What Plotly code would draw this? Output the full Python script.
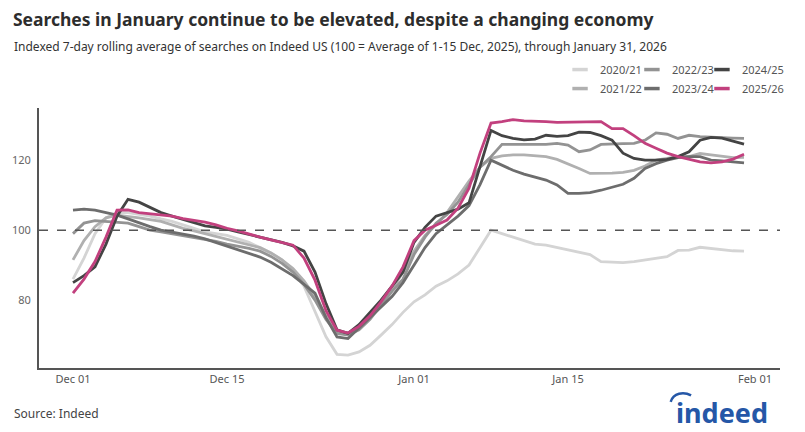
import pandas as pd
import plotly.graph_objects as go

dates = pd.date_range("2025-12-01", "2026-01-31", freq="D")

s2020 = [86, 92, 99, 103.5, 105, 105, 104.5, 104, 103.2, 102.5, 101.5, 100.5, 99.5, 99, 98.5, 97.5,
         96.5, 95, 93.5, 91.5, 88.5, 84, 77, 69.5, 64.5, 64.3, 65.2, 67.1, 70, 73, 76.5,
         79.5, 81.5, 84, 85.5, 87.5, 90, 95, 100, 99, 98, 97, 96, 95.7, 95, 94.3,
         93.7, 93, 91, 90.8, 90.7, 91, 91.5, 92, 92.4, 94.2, 94.3, 95.1, 94.7, 94.3, 94.1, 94]
s2021 = [91.5, 97, 101, 103.5, 104.3, 104, 103.5, 103, 102.5, 101.5, 100.5, 99.8, 99, 98.3, 97.5, 96.8,
         96, 95, 93.5, 91.5, 89, 85.5, 81, 75.5, 71, 70.5, 72.5, 75.5, 79, 83, 88,
         94, 98.5, 101.5, 105, 109.5, 114, 118, 120.5, 121.2, 121.5, 121.5, 121.3, 121, 120.2, 119,
         117.6, 116.2, 116.2, 116.3, 116.5, 117.1, 118.3, 120, 120.5, 121, 121, 121.9, 121.5, 121, 120.7, 120.8]
s2022 = [99, 102, 102.7, 102.5, 102.2, 102, 101, 100, 99.5, 99, 98.5, 98, 97.5, 96.8, 96, 95.5,
         94.8, 94, 92.5, 90.5, 88, 84.5, 80, 74.5, 70.5, 70, 71.5, 74.5, 78.5, 82.5, 86,
         93, 98, 102, 104.5, 108, 113, 118, 121, 124.5, 124.5, 124.5, 124.5, 124.5, 124.8, 124.3,
         122.4, 122.9, 124.5, 124.5, 124.7, 124.8, 125.7, 127.8, 127.4, 126.2, 127.1, 126.7, 126.5, 126.4, 126.3, 126.2]
s2023 = [105.7, 106, 105.7, 105, 104.3, 103.2, 102, 101, 100, 99.5, 99, 98.3, 97.5, 96.5, 95.5, 94.5,
         93.5, 92.3, 90.8, 89, 87, 84.5, 82, 75, 69.5, 69, 72, 75, 78, 81, 85,
         90, 95, 99, 101.5, 104, 107, 113, 120, 118.6, 117.1, 116, 115.2, 114.3, 112.9, 110.5,
         110.5, 110.7, 111.4, 112.2, 113.1, 114.8, 117.6, 119, 120, 120.7, 121, 121, 120, 119.8, 119.5, 119.2]
s2024 = [85, 87, 89.5, 96, 104, 108.8, 108, 106.5, 105, 104, 103, 102, 101.2, 100.8, 100.3, 99.5,
         98.8, 98, 97.3, 96.5, 95.5, 94, 88, 79, 71.5, 70.5, 73, 76.5, 80, 84, 88,
         96.5, 100.8, 104, 105, 106, 107.8, 118, 128.5, 127, 126.2, 125.8, 126, 127.1, 126.8, 127,
         128, 127.9, 127, 125.7, 122, 120.5, 120, 120, 120.2, 121, 122.4, 125.7, 126.5, 126.3, 125.5, 124.6]
s2025 = [82, 86, 91, 98, 105.7, 105.8, 105, 104.7, 104.5, 104, 103.3, 102.8, 102.3, 101.5, 100.5, 99.8,
         98.8, 98, 97.2, 96.5, 95.7, 92, 85.7, 77, 71.4, 70.6, 72.5, 75.5, 79.5, 84, 89.5,
         97, 100, 101.4, 102.9, 106.3, 112, 122, 130.6, 131, 131.6, 131.2, 131.2, 131, 130.8, 130.8,
         131, 131, 131, 129, 129, 127, 124.8, 123.4, 122, 121, 120.3, 119.5, 119.2, 119.5, 120.3, 121.7]

series_names = ["2020/21", "2021/22", "2022/23", "2023/24", "2024/25", "2025/26"]
series_values = [s2020, s2021, s2022, s2023, s2024, s2025]
series_colors = ["#d4d4d4", "#b0b0b0", "#939393", "#6d6d6d", "#444444", "#c2407e"]

x_tick_vals = ["2025-12-01", "2025-12-15", "2026-01-01", "2026-01-15", "2026-02-01"]
x_tick_text = ["Dec 01", "Dec 15", "Jan 01", "Jan 15", "Feb 01"]
y_tick_vals = [80, 100, 120]

fig = go.Figure()
for name, vals, col in zip(series_names, series_values, series_colors):
    fig.add_trace(go.Scatter(x=dates, y=vals, mode="lines", name=name,
                             line=dict(color=col, width=2.8), showlegend=False,
                             hoverinfo="skip"))

# legend: three columns of two entries each, like the reference
legend_ids = ["legend", "legend", "legend2", "legend2", "legend3", "legend3"]
for name, col, lg in zip(series_names, series_colors, legend_ids):
    fig.add_trace(go.Scatter(x=[None], y=[None], mode="markers", name=name,
                             marker=dict(symbol="line-ew-open", size=11, color=col,
                                         line=dict(color=col, width=3.5)),
                             legend=lg))

fig.add_hline(y=100, line=dict(color="#555555", width=1.5, dash="dash"))

leg_common = dict(orientation="v", xanchor="left", yanchor="middle",
                  xref="container", yref="container", y=0.817,
                  font=dict(family="Noto Sans", size=11, color="#555555"),
                  itemwidth=30, bgcolor="rgba(0,0,0,0)", tracegroupgap=0,
                  itemclick=False, itemdoubleclick=False)

fig.update_layout(
    width=805, height=432,
    margin=dict(l=39, r=25, t=108, b=64, autoexpand=False),
    paper_bgcolor="white", plot_bgcolor="white",
    font=dict(family="Noto Sans", color="#555555"),
    title=dict(text="<b>Searches in January continue to be elevated, despite a changing economy</b>",
               xref="container", x=0.016, xanchor="left", yref="container", y=0.953, yanchor="middle",
               font=dict(family="Noto Sans", size=17.5, color="#2d2d2d")),
    legend=dict(x=0.6957, **leg_common),
    legend2=dict(x=0.785, **leg_common),
    legend3=dict(x=0.872, **leg_common),
    xaxis=dict(type="date", range=["2025-11-27 21:50", "2026-02-03 06:30"],
               tickvals=x_tick_vals, ticktext=x_tick_text, showgrid=False, zeroline=False,
               showline=True, linecolor="#555555", linewidth=2, ticks="", automargin=False,
               tickfont=dict(family="Noto Sans", size=11, color="#555555")),
    yaxis=dict(range=[60.6, 134.9], tickvals=y_tick_vals, showgrid=False, zeroline=False,
               showline=True, linecolor="#555555", linewidth=2, ticks="", automargin=False,
               ticklabelstandoff=4,
               tickfont=dict(family="Noto Sans", size=11, color="#666666")),
)

fig.add_annotation(text="Indexed 7-day rolling average of searches on Indeed US (100 = Average of 1-15 Dec, 2025), through January 31, 2026",
                   xref="paper", yref="paper", x=-0.036, y=1.238, xanchor="left", yanchor="middle",
                   showarrow=False, font=dict(family="Noto Sans", size=12, color="#333333"))
fig.add_annotation(text="Source: Indeed", xref="paper", yref="paper", x=-0.036, y=-0.176,
                   xanchor="left", yanchor="middle", showarrow=False,
                   font=dict(family="Noto Sans", size=12, color="#444444"))
fig.add_annotation(text="<b>indeed</b>", xref="paper", yref="paper", x=0.9865, y=-0.172,
                   xanchor="right", yanchor="middle", showarrow=False,
                   font=dict(family="Noto Sans", size=27, color="#2557a7"))
# swoosh of the logo
fig.add_shape(type="path", xref="paper", yref="paper", layer="above",
              path="M 0.8525,-0.1300 C 0.8560,-0.0950 0.8700,-0.0900 0.8800,-0.1050",
              line=dict(color="#2557a7", width=2.5))

fig.write_html("out.html", config={"displayModeBar": False, "staticPlot": True},
               post_script="document.body.style.margin='0';document.body.style.overflow='hidden';")
